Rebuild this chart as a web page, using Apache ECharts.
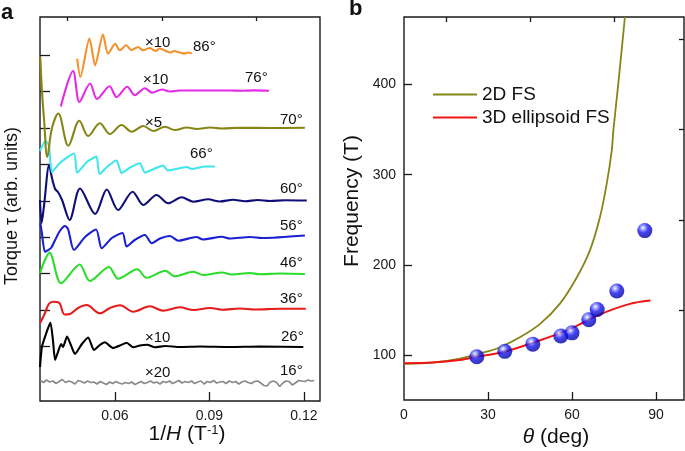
<!DOCTYPE html>
<html><head><meta charset="utf-8">
<script src="https://cdn.jsdelivr.net/npm/echarts@6/dist/echarts.min.js"></script>
<style>html,body{margin:0;padding:0;background:#fff}#c{width:685px;height:451px}</style>
</head><body><div id="c"></div>
<script>
const FONT = "'Liberation Sans', Arial, Helvetica, sans-serif";

// ---------- Panel a : torque curves (x = 1/H in T^-1, y = torque, arb. units, relative to each curve's baseline)
const angleLabels = ['16°','26°','36°','46°','56°','60°','66°','70°','76°','86°'];
const baselineOffsets = [0, 36, 72, 109, 145, 181, 218, 254, 291, 327];

const t16 = [[0.0363,1.5],[0.0373,-0.5],[0.0383,2],[0.0393,0],[0.0403,1],[0.0413,-1.5],[0.0423,0.5],[0.0433,2.5],[0.0443,-0.5],[0.0453,1],
[0.0463,0],[0.0473,-2],[0.0483,1.5],[0.0493,0.5],[0.0503,-1],[0.0513,1],[0.0523,-0.5],[0.0533,0],[0.0543,-2],[0.0553,0.5],
[0.0563,-1],[0.0573,-2.5],[0.0583,0],[0.0593,-1.5],[0.0603,0.5],[0.0613,-1],[0.0623,-2],[0.0633,-0.5],[0.0643,-1.5],[0.0653,0],
[0.0663,-2.5],[0.0673,-1],[0.0683,0.5],[0.0693,-1.5],[0.0703,-0.5],[0.0713,1],[0.0723,-1],[0.0733,0],[0.0743,-2],[0.0753,0.5],
[0.0763,-0.5],[0.0773,1],[0.0783,-1.5],[0.0793,0],[0.0803,1.5],[0.0813,-1],[0.0823,0.5],[0.0833,-0.5],[0.0843,1],[0.0853,-1.5],
[0.0863,0],[0.0873,1],[0.0883,-2],[0.0893,0.5],[0.0903,-0.5],[0.0913,1.5],[0.0923,-1],[0.0933,0],[0.0943,0.5],[0.0953,-1.5],
[0.0963,1],[0.0973,-0.5],[0.0983,0.5],[0.0993,-2],[0.1003,0],[0.1013,1],[0.1023,-0.5],[0.1033,-1.5],[0.1043,0.5],[0.1053,1],
[0.1063,-1],[0.1073,-3.5],[0.1083,-4],[0.1093,0],[0.1103,1],[0.1113,-0.5],[0.1123,-4.5],[0.1133,-1],[0.1143,1],[0.1153,0.5],
[0.1163,-3],[0.1173,-1],[0.1183,1.5],[0.1193,1],[0.1203,0.5],[0.1213,2],[0.1223,1],[0.1233,1.5]];

const t26 = [[0.0362,-21],[0.0368,-1],[0.0381,12],[0.0395,23.5],[0.0403,6],[0.0410,-14],[0.0419,-6],[0.0429,2],[0.0435,-1],[0.0448,9.5],[0.0460,1],[0.0473,-8],[0.0495,2],[0.0515,8.5],[0.0533,-4],[0.0552,1],[0.0568,3.7],[0.0594,-2],[0.0616,0.5],[0.0637,3.3],[0.0658,-1.3],[0.0679,0.5],[0.0702,1.3],[0.0727,-1.3],[0.0759,0],[0.0806,-1],[0.0870,-0.5],[0.0965,-1],[0.1060,-0.5],[0.1198,-1]];

const t36 = [[0.0362,-13.3],[0.0378,-3],[0.0390,6],[0.0404,8.3],[0.0416,8],[0.0425,6.5],[0.0440,-4.5],[0.0457,-4],[0.0483,2],[0.0510,5],[0.0552,-3.3],[0.0584,2],[0.0616,4.7],[0.0658,-1.7],[0.0711,3.7],[0.0753,-0.7],[0.0806,2.7],[0.0849,0],[0.0902,2],[0.0940,0.3],[0.0997,1.5],[0.1044,0.5],[0.1124,1.3],[0.1206,1.3]];

const t46 = [[0.0362,-0.3],[0.0375,11],[0.0392,20.5],[0.0429,-10.3],[0.0488,8.5],[0.0520,-8],[0.0581,6],[0.0610,-5.8],[0.0671,3.7],[0.0700,-4.8],[0.0760,2.3],[0.0790,-3.3],[0.0849,1.3],[0.0880,-2],[0.0940,0.5],[0.0971,-1.5],[0.1029,0],[0.1060,-1.3],[0.1124,-0.5],[0.1203,-1]];

const t56 = [[0.0363,14],[0.0368,4],[0.0378,-15],[0.0388,-13],[0.0397,-11],[0.0410,-3],[0.0425,6],[0.0441,11],[0.0451,8],[0.0470,-13],[0.0505,0],[0.0540,7.5],[0.0558,-11.3],[0.0590,-1],[0.0624,4],[0.0637,-9.5],[0.0663,-3],[0.0695,2],[0.0717,-6.3],[0.0743,-1.5],[0.0775,1],[0.0801,-3.7],[0.0859,0],[0.0879,-2.5],[0.0940,0.2],[0.0965,-1.5],[0.1029,0],[0.1067,-1],[0.1203,1.5]];

const t60 = [[0.0362,1],[0.0367,-22],[0.0375,-4],[0.0391,36],[0.0400,23],[0.0410,12],[0.0419,9],[0.0432,1],[0.0456,-19],[0.0489,12.5],[0.0537,-13],[0.0574,11.5],[0.0610,-9],[0.0656,9.3],[0.0690,-4],[0.0732,6],[0.0769,-2.3],[0.0812,3.7],[0.0849,-0.7],[0.0896,1.7],[0.0933,-0.5],[0.0975,1.2],[0.1013,-0.2],[0.1054,1],[0.1092,0],[0.1140,0.8],[0.1209,0.5]];

const t66 = [[0.0362,13],[0.0379,23],[0.0390,19],[0.0400,-8],[0.0425,1],[0.0470,10.5],[0.0480,-8.7],[0.0511,2],[0.0541,7.5],[0.0551,-10],[0.0578,-2],[0.0605,3.5],[0.0621,-9],[0.0651,-3],[0.0679,0.7],[0.0695,-8.5],[0.0727,-4.5],[0.0753,-1.5],[0.0768,-6.5],[0.0828,-3],[0.0844,-5],[0.0886,-2.5],[0.0917,-2.5]];

const t70 = [[0.0363,71],[0.0368,38],[0.0375,8],[0.0385,-29],[0.0400,0],[0.0420,14.5],[0.0452,-17.7],[0.0487,7.3],[0.0515,-8],[0.0552,4.7],[0.0584,-6],[0.0621,3],[0.0653,-3.7],[0.0690,2],[0.0722,-3],[0.0759,1.3],[0.0790,-2],[0.0829,0.5],[0.0860,-1],[0.0902,0.5],[0.0940,-0.5],[0.0997,0.2],[0.1092,0],[0.1203,0.3]];

const t76 = [[0.0428,-15.5],[0.0467,20],[0.0487,-11],[0.0521,7.5],[0.0543,-8],[0.0583,4.7],[0.0605,-6.2],[0.0639,4.2],[0.0663,-4.2],[0.0695,2.8],[0.0718,-1.7],[0.0749,1.5],[0.0775,-0.5],[0.0806,0.5],[0.0870,0.5],[0.0965,0.5],[0.1000,0.2],[0.1040,0.6],[0.1089,0.3]];

const t86 = [[0.0480,-3.7],[0.0490,-22],[0.0519,16.5],[0.0537,-10.3],[0.0562,20.5],[0.0578,1.3],[0.0601,11.3],[0.0615,4.7],[0.0636,9.7],[0.0652,4.7],[0.0673,8],[0.0689,4.7],[0.0711,7],[0.0722,5],[0.0730,4],[0.0741,6.5],[0.0752,5.5],[0.0765,3.5],[0.0775,2.5],[0.0788,4],[0.0800,3],[0.0811,2],[0.0822,1.5],[0.0833,2.5],[0.0844,1.5]];

const curves = [t16, t26, t36, t46, t56, t60, t66, t70, t76, t86];
const multipliers = {'26°':'×10', '70°':'×5', '76°':'×10', '86°':'×10', '16°':'×20'};

const xTicksMajorA = [0.06, 0.09, 0.12];
const xTicksMinorA = [0.045, 0.075, 0.105];

// ---------- Panel b : frequency vs angle
const thetaData = [26, 36, 46, 56, 60, 66, 69, 76, 86];
const freqData = [98, 104, 112, 121, 124.5, 139, 150.5, 171, 238];
const fs2D = [[0,90],[10,91.5],[20,96],[30,104],[34.3,108.5],[41.4,119.6],[48.6,134.5],[55.7,157],[61.7,186],[66.4,216],[70,253],[72.4,290],[74.2,327],[74.8,350],[76.5,400],[78.9,475]];
const fs3D = [[0,90.7],[10,91.5],[20,94.5],[26,98],[30,100],[36,103.5],[46,113.5],[58,127],[70,145],[80.7,156.7],[88,160.3]];
const xTicksMajorB = [30, 60, 90];
const xLabelsB = [0, 30, 60, 90];
const xTicksMinorB = [15, 45, 75];
const yTicksMajorB = [100, 200, 300, 400];
const yTicksMinorB = [150, 250, 350, 450];

// ---------- styles
const curveColors = ['#8a8a8a','#000000','#e41d1d','#2bdc2b','#1a1fd0','#0e0e78','#3ee6ee','#868617','#e52be5','#f5902a'];
const smoothness = [0, 0.2, 0.35, 0.3, 0.25, 0.3, 0.2, 0.35, 0.3, 0.25];

const chart = echarts.init(document.getElementById('c'), null, {renderer: 'canvas'});

const series = [];
curves.forEach((c, i) => {
  series.push({
    type: 'line', xAxisIndex: 0, yAxisIndex: 0, symbol: 'none', silent: true,
    smooth: smoothness[i], clip: true,
    lineStyle: {color: curveColors[i], width: i === 0 ? 1.7 : 2.1},
    data: c.map(p => [p[0], p[1] + baselineOffsets[i]]),
    z: 2 + i
  });
});
series.push({
  name: '2D FS', type: 'line', xAxisIndex: 2, yAxisIndex: 1, symbol: 'none', showSymbol: false, smooth: 0.3, clip: true,
  lineStyle: {color: '#858519', width: 1.8}, itemStyle: {color: '#858519'}, data: fs2D, z: 3
});
series.push({
  name: '3D ellipsoid FS', type: 'line', xAxisIndex: 2, yAxisIndex: 1, symbol: 'none', showSymbol: false, smooth: 0.3, clip: true,
  lineStyle: {color: '#ee1515', width: 2}, itemStyle: {color: '#ee1515'}, data: fs3D, z: 4
});
series.push({
  type: 'scatter', xAxisIndex: 2, yAxisIndex: 1, symbolSize: 15, z: 6,
  itemStyle: {
    color: {type: 'radial', x: 0.38, y: 0.32, r: 0.68, colorStops: [
      {offset: 0, color: '#ffffff'}, {offset: 0.2, color: '#8f95ff'},
      {offset: 0.5, color: '#1515f0'}, {offset: 1, color: '#0000a0'}]}
  },
  data: thetaData.map((t, i) => [t, freqData[i]])
});

const tickStyle = {color: '#1a1a1a', width: 1.3};
const axisLabelStyle = {fontSize: 14, fontFamily: FONT, color: '#1a1a1a'};

const texts = [];
function txt(text, x, y, size, opts) {
  texts.push(Object.assign({type: 'text', x: x, y: y, silent: true,
    style: Object.assign({text: text, fontSize: size, fontFamily: FONT, fill: '#111',
      textAlign: 'left', textVerticalAlign: 'middle'}, (opts && opts.style) || {})},
    (opts && opts.el) || {}));
}
// angle labels and multipliers (panel a)
const angleLabelPos = [[280,371],[281,337],[280,299],[280,263],[280,226],[280,189],[190,154],[280,120],[245,78],[193,47]];
angleLabels.forEach((a, i) => txt(a, angleLabelPos[i][0], angleLabelPos[i][1], 15));
const multPos = {'86°':[145,43], '76°':[143,80], '70°':[145,123], '26°':[145,338], '16°':[145,373]};
Object.keys(multipliers).forEach(k => txt(multipliers[k], multPos[k][0], multPos[k][1], 15));
// panel letters
txt('a', 1, 13, 22, {style: {fontWeight: 'bold'}});
txt('b', 349, 9, 22, {style: {fontWeight: 'bold'}});
// axis titles
txt('1/{i|H} (T{s|-1})', 187, 434, 21, {style: {textAlign: 'center', rich: {
  i: {fontStyle: 'italic', fontSize: 21, fontFamily: FONT},
  s: {fontSize: 13, fontFamily: FONT, verticalAlign: 'top', lineHeight: 14}}}});
txt('{i|θ} (deg)', 556, 437, 21, {style: {textAlign: 'center', rich: {
  i: {fontStyle: 'italic', fontSize: 21, fontFamily: FONT}}}});
txt('Torque τ (arb. units)', 12, 206, 18, {style: {textAlign: 'center'}, el: {rotation: Math.PI / 2}});
txt('Frequency (T)', 352, 201, 21, {style: {textAlign: 'center'}, el: {rotation: Math.PI / 2}});

const option = {
  animation: false,
  backgroundColor: '#fff',
  textStyle: {fontFamily: FONT},
  grid: [
    {left: 40, top: 17, width: 280, height: 384, show: true, borderColor: '#1a1a1a', borderWidth: 1.4, backgroundColor: 'transparent'},
    {left: 404, top: 17, width: 280, height: 383, show: true, borderColor: '#1a1a1a', borderWidth: 1.4, backgroundColor: 'transparent'}
  ],
  legend: {
    data: ['2D FS', '3D ellipsoid FS'], orient: 'vertical', left: 433, top: 85, padding: 0,
    icon: 'rect', itemWidth: 44, itemHeight: 2, itemGap: 4, selectedMode: false,
    textStyle: {fontSize: 19, fontFamily: FONT, color: '#111'}
  },
  xAxis: [
    {gridIndex: 0, type: 'value', min: 0.0362, max: 0.1251, splitLine: {show: false}, axisLine: {show: false, onZero: false},
     axisTick: {inside: true, length: 9, customValues: xTicksMajorA, lineStyle: tickStyle},
     axisLabel: Object.assign({customValues: xTicksMajorA, margin: 8, formatter: v => v.toFixed(2)}, axisLabelStyle)},
    {gridIndex: 0, type: 'value', min: 0.0362, max: 0.1251, splitLine: {show: false}, axisLine: {show: false, onZero: false},
     axisTick: {inside: true, length: 4, customValues: xTicksMinorA, lineStyle: tickStyle}, axisLabel: {show: false}},
    {gridIndex: 1, type: 'value', min: 0, max: 100, splitLine: {show: false}, axisLine: {show: false, onZero: false},
     axisTick: {inside: true, length: 8, customValues: xTicksMajorB, lineStyle: tickStyle},
     axisLabel: Object.assign({customValues: xLabelsB, margin: 8}, axisLabelStyle)},
    {gridIndex: 1, type: 'value', min: 0, max: 100, splitLine: {show: false}, axisLine: {show: false, onZero: false},
     axisTick: {inside: true, length: 5, customValues: xTicksMinorB, lineStyle: tickStyle}, axisLabel: {show: false}}
  ],
  yAxis: [
    {gridIndex: 0, type: 'value', min: -19, max: 365, splitLine: {show: false}, axisLine: {show: false, onZero: false},
     axisTick: {inside: true, length: 10, customValues: baselineOffsets.slice(1), lineStyle: tickStyle}, axisLabel: {show: false}},
    {gridIndex: 1, type: 'value', min: 50, max: 475, splitLine: {show: false}, axisLine: {show: false, onZero: false},
     axisTick: {inside: true, length: 8, customValues: yTicksMajorB, lineStyle: tickStyle},
     axisLabel: Object.assign({customValues: yTicksMajorB, margin: 8}, axisLabelStyle)},
    {gridIndex: 1, type: 'value', min: 50, max: 475, splitLine: {show: false}, axisLine: {show: false, onZero: false},
     axisTick: {inside: true, length: 5, customValues: yTicksMinorB, lineStyle: tickStyle}, axisLabel: {show: false}}
  ],
  graphic: texts,
  series: series
};
chart.setOption(option);
</script></body></html>
